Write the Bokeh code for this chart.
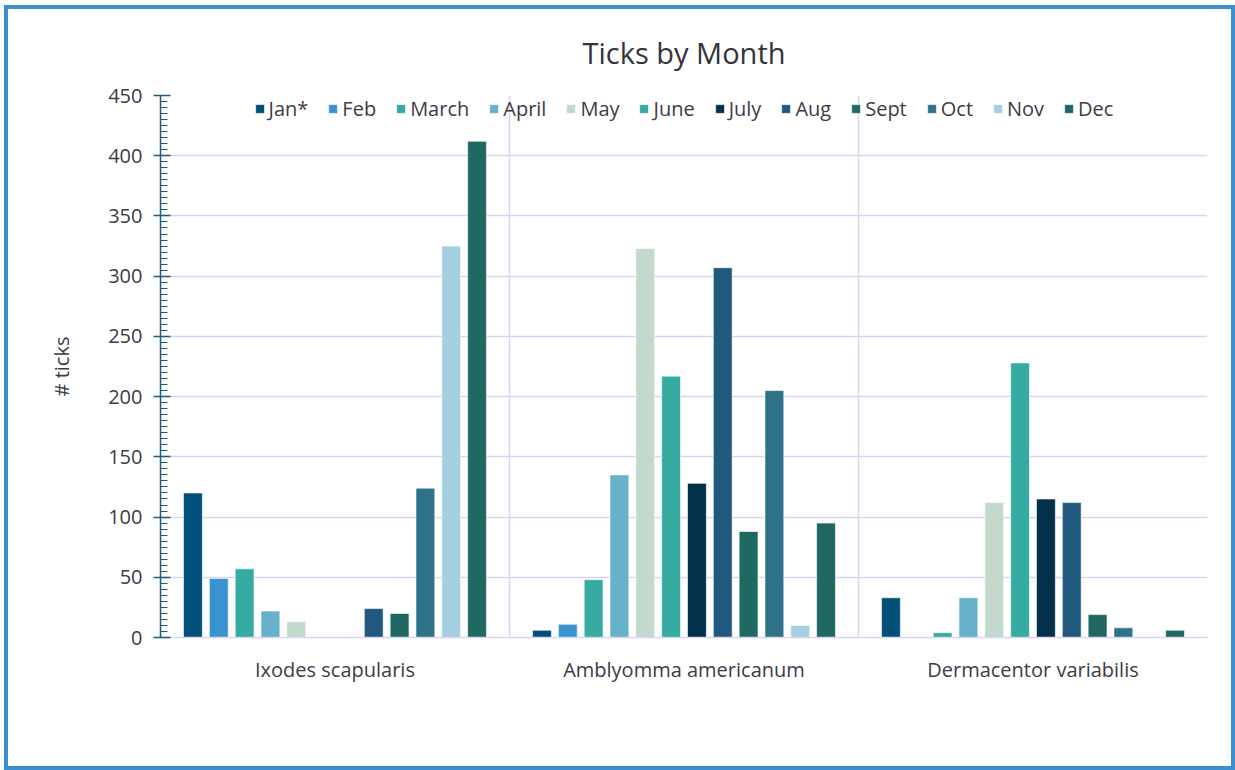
from bokeh.plotting import figure
from bokeh.models import Range1d, FixedTicker, SingleIntervalTicker, Legend, LegendItem, ColumnDataSource
from bokeh.embed import file_html
from bokeh.resources import INLINE

species = ["Ixodes scapularis", "Amblyomma americanum", "Dermacentor variabilis"]
months = ["Jan*", "Feb", "March", "April", "May", "June", "July", "Aug", "Sept", "Oct", "Nov", "Dec"]
ixodes = [120, 49, 57, 22, 13, 0, 0, 24, 20, 124, 325, 412]
amblyomma = [6, 11, 48, 135, 323, 217, 128, 307, 88, 205, 10, 95]
dermacentor = [33, 0, 4, 33, 112, 228, 115, 112, 19, 8, 0, 6]
colors = ["#02507a", "#3a93d0", "#35aba2", "#67b1cb", "#c2d9cb", "#35aba2",
          "#03304a", "#21587e", "#1f6962", "#2e7288", "#a4d0df", "#1f6962"]

font = "Open Sans"
text_color = "#3c3c46"
grid_color = "#d9d4f5"

p = figure(width=1231, height=765, output_backend="svg", toolbar_location=None,
           x_range=Range1d(0, 3), y_range=Range1d(0, 450),
           min_border_left=156, min_border_right=28, min_border_top=90, min_border_bottom=133,
           title="Ticks by Month")
p.styles = {"outline": "4px solid #3b8fd1", "outline-offset": "-4px", "background": "white"}
p.margin = (5, 0, 0, 4)
p.outline_line_color = None
p.background_fill_color = "white"
p.border_fill_alpha = 0

p.title.align = "center"
p.title.text_font = font
p.title.text_font_size = "29px"
p.title.text_font_style = "normal"
p.title.text_color = "#33333d"
p.title.standoff = 47

step = 0.074
width = 0.054
items = []
for i, m in enumerate(months):
    xs = [s + 0.5 + (i - 5.5) * step for s in range(len(species))]
    tops = [ixodes[i], amblyomma[i], dermacentor[i]]
    src = ColumnDataSource(dict(x=xs, top=tops))
    r = p.vbar(x="x", top="top", bottom=0, width=width, source=src,
               fill_color=colors[i], line_color="white", line_alpha=0.6, line_width=1)
    items.append(LegendItem(label=m, renderers=[r]))

legend = Legend(items=items, orientation="horizontal", location="top_center",
                label_text_font=font, label_text_font_size="20px", label_text_color=text_color,
                glyph_width=11, glyph_height=11, label_standoff=4, spacing=19,
                padding=0, margin=0, background_fill_alpha=0, border_line_color=None)
p.add_layout(legend, "center")

# y axis
p.yaxis.ticker = SingleIntervalTicker(interval=50, num_minor_ticks=10)
p.yaxis.axis_line_color = "#1f5c7c"
p.yaxis.axis_line_width = 1.5
p.yaxis.major_tick_line_color = "#1f5c7c"
p.yaxis.minor_tick_line_color = "#1f5c7c"
p.yaxis.major_tick_line_width = 1.5
p.yaxis.major_tick_in = 10
p.yaxis.major_tick_out = 7
p.yaxis.minor_tick_in = 7
p.yaxis.minor_tick_out = 0
p.yaxis.major_label_text_font = font
p.yaxis.major_label_text_font_size = "20px"
p.yaxis.major_label_text_color = text_color
p.yaxis.major_label_standoff = 11
p.yaxis.axis_label = "# ticks"
p.yaxis.axis_label_text_font = font
p.yaxis.axis_label_text_font_size = "20px"
p.yaxis.axis_label_text_font_style = "normal"
p.yaxis.axis_label_text_color = text_color
p.yaxis.axis_label_standoff = 30

# x axis
p.xaxis.ticker = FixedTicker(ticks=[0.5, 1.5, 2.5])
p.xaxis.major_label_overrides = {0.5: species[0], 1.5: species[1], 2.5: species[2]}
p.xaxis.axis_line_color = grid_color
p.xaxis.axis_line_width = 1.5
p.xaxis.major_tick_line_color = None
p.xaxis.minor_tick_line_color = None
p.xaxis.major_label_text_font = font
p.xaxis.major_label_text_font_size = "20px"
p.xaxis.major_label_text_color = text_color
p.xaxis.major_label_standoff = 12

# grids
p.ygrid.ticker = SingleIntervalTicker(interval=50)
p.ygrid.grid_line_color = grid_color
p.ygrid.grid_line_width = 1.5
p.xgrid.ticker = FixedTicker(ticks=[1, 2, 3])
p.xgrid.grid_line_color = grid_color
p.xgrid.grid_line_width = 1.5

open("out.html", "w").write(file_html(p, INLINE))
